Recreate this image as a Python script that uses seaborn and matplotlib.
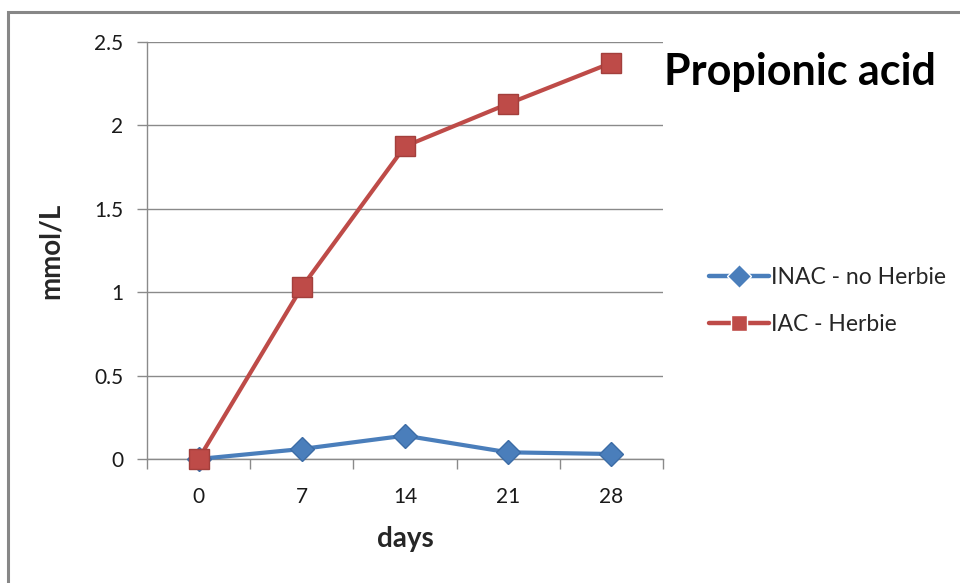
import matplotlib
matplotlib.use("Agg")
import matplotlib.pyplot as plt
from matplotlib.patches import Rectangle
import seaborn as sns
import pandas as pd
import numpy as np

days = ["0", "7", "14", "21", "28"]
inac_no_herbie = [0.0, 0.06, 0.14, 0.04, 0.03]
iac_herbie = [0.0, 1.03, 1.875, 2.13, 2.375]
series_names = ["INAC - no Herbie", "IAC - Herbie"]
y_ticks = [0, 0.5, 1, 1.5, 2, 2.5]
y_tick_labels = ["0", "0.5", "1", "1.5", "2", "2.5"]

sns.set_theme(style="white")
plt.rcParams["font.family"] = ["Lato", "DejaVu Sans"]

pos = np.arange(len(days))
df = pd.DataFrame({
    "pos": np.concatenate([pos, pos]),
    "value": inac_no_herbie + iac_herbie,
    "series": [series_names[0]] * len(days) + [series_names[1]] * len(days),
})

fig = plt.figure(figsize=(9.6, 5.83), dpi=100)
ax = fig.add_axes([147 / 960, 1 - 459 / 583, (663 - 147) / 960, (459 - 42) / 583])

palette = {series_names[0]: "#4A7EBB", series_names[1]: "#BE4B48"}
markers = {series_names[0]: "D", series_names[1]: "s"}
sns.lineplot(data=df, x="pos", y="value", hue="series", style="series",
             palette=palette, markers=markers, dashes=False,
             linewidth=3.0, markersize=12, markeredgewidth=1.0, ax=ax)
for line, edge, ms, z in zip(ax.lines, ["#3C6CA6", "#A33F3C"], [12.5, 14.5], [3, 4]):
    line.set_markeredgecolor(edge)
    line.set_markersize(ms)
    line.set_clip_on(False)
    line.set_zorder(z)

ax.set_xlim(-0.5, len(days) - 0.5)
ax.set_ylim(0, 2.5)

grid_color = "#8A8A8A"
ax.set_yticks(y_ticks)
ax.set_yticklabels(y_tick_labels)
ax.yaxis.grid(True, color=grid_color, linewidth=1.0)
ax.xaxis.grid(False)

# category boundaries carry the tick marks, labels sit at the centres
ax.set_xticks(np.arange(-0.5, len(days), 1.0))
ax.set_xticklabels([])
ax.set_xticks(pos, minor=True)
ax.set_xticklabels(days, minor=True)
ax.tick_params(axis="x", which="major", direction="out", length=7, width=1.0,
               color=grid_color, bottom=True)
ax.tick_params(axis="x", which="minor", length=0, pad=20, labelsize=15,
               labelcolor="#1a1a1a")
ax.tick_params(axis="y", direction="out", length=7, width=1.0, color=grid_color,
               left=True, pad=10, labelsize=15, labelcolor="#1a1a1a")

for side in ["top", "right"]:
    ax.spines[side].set_visible(False)
for side in ["left", "bottom"]:
    ax.spines[side].set_color(grid_color)
    ax.spines[side].set_linewidth(1.0)

ax.set_xlabel("days", fontsize=20, fontweight="bold", labelpad=14)
ax.set_ylabel("mmol/L", fontsize=20, fontweight="bold", labelpad=22)

leg = ax.legend(loc="center left", bbox_to_anchor=(698 / 960, 1 - 301 / 583),
                bbox_transform=fig.transFigure, frameon=False, fontsize=16.5,
                handlelength=2.6, handletextpad=0.1, labelspacing=1.15,
                borderpad=0)
for h in leg.legend_handles:
    h.set_linewidth(3.2)

fig.text(800 / 960, 1 - 72 / 583, "Propionic acid", fontsize=31,
         fontweight="bold", ha="center", va="center", color="black")

fig.patches.append(Rectangle((8 / 960, -0.1), 1.2, 0.1 + 1 - 12 / 583,
                             transform=fig.transFigure, fill=False,
                             edgecolor="#878787", linewidth=2.2))

fig.savefig("out.png", dpi=100, facecolor="white")
